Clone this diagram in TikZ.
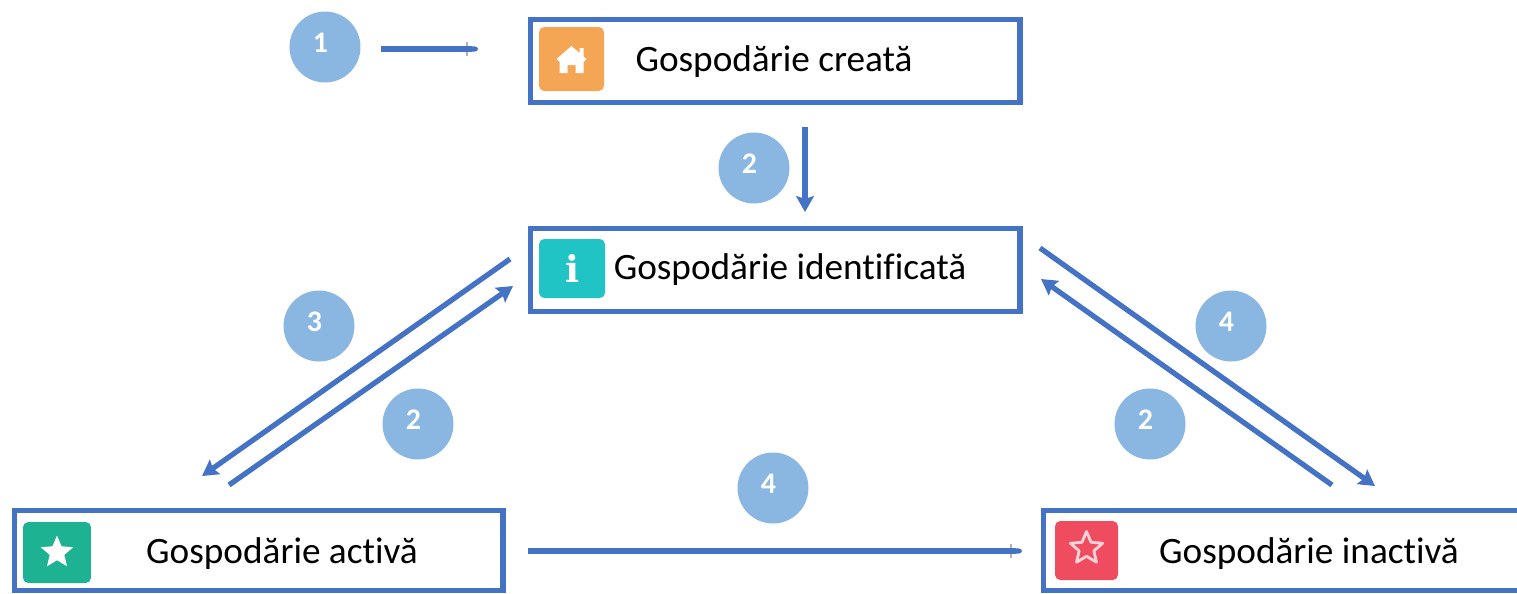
\documentclass[tikz,border=0pt]{standalone}
\usepackage{fontspec}
\setmainfont[Ligatures=CommonOff]{Carlito}
\newfontfamily\iconfont{DejaVu Serif}
\usetikzlibrary{arrows.meta, shapes.geometric}
\definecolor{boxblue}{RGB}{68,114,196}
\definecolor{stepblue}{RGB}{138,182,226}
\newcommand{\stepnum}[1]{\raisebox{5.1pt}{#1}\kern5.1pt}
\tikzset{
    statebox/.style={draw=boxblue, line width=2.9pt, fill=white, inner sep=0pt, anchor=north west},
    iconbox/.style={rounded corners=3pt, inner sep=0pt, text=white},
    statetext/.style={font=\fontsize{21.2pt}{24pt}\selectfont, inner sep=0pt, text=black},
    stepdot/.style={circle, fill=stepblue, minimum size=1.42cm, inner sep=0pt, text=white, font=\fontsize{17pt}{18pt}\selectfont\bfseries},
    flow/.style={draw=boxblue, line width=3pt, -{Stealth[length=9pt,width=10pt,inset=1.5pt]}},
    flowstub/.style={draw=boxblue, line width=3pt, -{Round Cap[length=2pt]}},
    tickmark/.style={pos=1, xshift=-0.22cm, behind path, fill=gray!60, minimum width=1.2pt, minimum height=8pt, inner sep=0pt},
    starmark/.style={star, star points=5, star point ratio=2.2, minimum size=0.68cm, inner sep=0pt, line join=round}
}
\begin{document}
\begin{tikzpicture}[x=0.02cm, y=-0.02cm]
    \useasboundingbox (0,0) rectangle (1517,593);
    % boxes
    \node [statebox, minimum width=9.80cm, minimum height=1.66cm] (created) at (527.5,17) {};
    \node [statebox, minimum width=9.80cm, minimum height=1.66cm] (identified) at (527.5,226) {};
    \node [statebox, minimum width=9.78cm, minimum height=1.60cm] (active) at (11.5,508) {};
    \node [statebox, minimum width=9.60cm, minimum height=1.60cm] (inactive) at (1040.5,508) {};
    % icons
    \node [iconbox, minimum width=1.30cm, minimum height=1.28cm, fill={rgb,255:red,245;green,166;blue,84}] (homeicon) at (571.5,59) {};
    \fill [white] ([shift={(0,-13)}]homeicon.center) -- ++(8,7) -- ++(0,-5) -- ++(4,0) -- ++(0,8.5) -- ++(3,2.5) -- ++(-3,3) -- ++(0,11) -- ++(-8,0) -- ++(0,-8) -- ++(-8,0) -- ++(0,8) -- ++(-8,0) -- ++(0,-11) -- ++(-3,-3) -- cycle;
    \node [iconbox, minimum width=1.32cm, minimum height=1.18cm, fill={rgb,255:red,32;green,196;blue,196}, font=\iconfont\fontsize{21pt}{21pt}\selectfont\bfseries] (infoicon) at (572,268.5) {i};
    \node [iconbox, minimum width=1.36cm, minimum height=1.22cm, fill={rgb,255:red,28;green,178;blue,146}] (activeicon) at (57,552.5) {};
    \node [starmark, fill=white] (activestar) at (activeicon.center) {};
    \node [iconbox, minimum width=1.26cm, minimum height=1.18cm, fill={rgb,255:red,240;green,76;blue,96}] (inactiveicon) at (1086.5,550.5) {};
    \node [starmark, draw=white, line width=1.6pt, opacity=0.75] (inactivestar) at ([yshift=0.04cm]inactiveicon.center) {};
    % labels
    \node [statetext] (createdtext) at (774,62) {Gospodărie creată};
    \node [statetext] (identifiedtext) at (790,270) {Gospodărie identificată};
    \node [statetext] (activetext) at (282,554) {Gospodărie activă};
    \node [statetext] (inactivetext) at (1309,554) {Gospodărie inactivă};
    % steps
    \node [stepdot] (one) at (325,47) {\stepnum{1}};
    \node [stepdot] (twotop) at (754,168) {\stepnum{2}};
    \node [stepdot] (three) at (319,326) {\stepnum{3}};
    \node [stepdot] (twoleft) at (418,424) {\stepnum{2}};
    \node [stepdot] (fourright) at (1231,326) {\stepnum{4}};
    \node [stepdot] (tworight) at (1150,424) {\stepnum{2}};
    \node [stepdot] (fourbottom) at (773,488) {\stepnum{4}};
    % arrow ends
    \coordinate (startA) at (381,49);
    \coordinate (endA) at (478,49);
    \coordinate (startB) at (805,127);
    \coordinate (endB) at (805,212);
    \coordinate (startC) at (510,259);
    \coordinate (endC) at (202,476);
    \coordinate (startD) at (229,485);
    \coordinate (endD) at (513,286);
    \coordinate (startE) at (1040,248);
    \coordinate (endE) at (1375,486);
    \coordinate (startF) at (1332,485);
    \coordinate (endF) at (1041,279);
    \coordinate (startG) at (528,551);
    \coordinate (endG) at (1022,551);
    % arrows
    \draw [flowstub] (startA) -- (endA) node [tickmark] (tickA) {};
    \draw [flow] (startB) -- (endB);
    \draw [flow] (startC) -- (endC);
    \draw [flow] (startD) -- (endD);
    \draw [flow] (startE) -- (endE);
    \draw [flow] (startF) -- (endF);
    \draw [flowstub] (startG) -- (endG) node [tickmark] (tickG) {};
\end{tikzpicture}
\end{document}
